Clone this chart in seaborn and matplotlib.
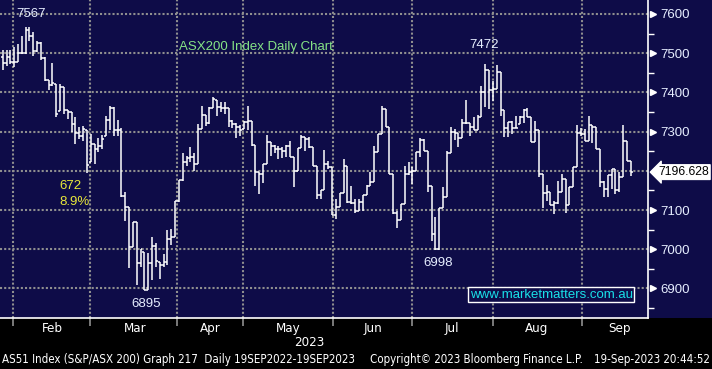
import numpy as np
import pandas as pd
import matplotlib
matplotlib.use("Agg")
import matplotlib.pyplot as plt
import seaborn as sns
from matplotlib.patches import Rectangle

# ---------------- data ----------------
opens = [7491, 7475, 7490, 7478, 7477, 7500, 7500, 7558, 7545, 7506,
         7525, 7488, 7432, 7420, 7422, 7352, 7413, 7355, 7349, 7320,
         7296, 7290, 7304, 7222, 7269, 7255, 7262, 7290, 7330, 7360,
         7305, 7305, 7135, 7108, 7006, 7069, 6965, 6993, 6896, 6965,
         7007, 6967, 6960, 6968, 7026, 7031, 7123, 7177, 7222, 7233,
         7236, 7217, 7307, 7343, 7321, 7360, 7381, 7362, 7360, 7360,
         7328, 7320, 7311, 7307, 7324, 7328, 7267, 7196, 7192, 7217,
         7273, 7264, 7256, 7256, 7251, 7264, 7234, 7199, 7258, 7286,
         7281, 7260, 7213, 7137, 7151, 7217, 7209, 7088, 7107, 7143,
         7213, 7120, 7117, 7098, 7120, 7137, 7162, 7171, 7247, 7294,
         7358, 7313, 7192, 7092, 7075, 7115, 7192, 7196, 7200, 7247,
         7279, 7250, 7162, 7039, 7000, 7105, 7134, 7245, 7298, 7296,
         7284, 7321, 7321, 7313, 7304, 7338, 7400, 7456, 7405, 7409,
         7451, 7354, 7309, 7324, 7309, 7320, 7337, 7355, 7337, 7273,
         7303, 7192, 7143, 7145, 7114, 7118, 7145, 7179, 7114, 7158,
         7209, 7296, 7294, 7277, 7316, 7313, 7256, 7171, 7154, 7190,
         7205, 7151, 7185, 7277, 7226]
highs = [7507, 7509, 7507, 7515, 7524, 7545, 7566, 7568, 7554, 7531,
         7528, 7490, 7432, 7474, 7422, 7422, 7413, 7355, 7349, 7337,
         7313, 7315, 7304, 7294, 7269, 7284, 7292, 7341, 7366, 7364,
         7330, 7309, 7145, 7108, 7069, 7069, 7000, 6993, 6990, 7031,
         7016, 6967, 6988, 7049, 7052, 7123, 7177, 7245, 7239, 7260,
         7245, 7320, 7366, 7343, 7362, 7389, 7381, 7375, 7375, 7360,
         7330, 7321, 7318, 7328, 7366, 7328, 7267, 7196, 7217, 7292,
         7273, 7267, 7262, 7260, 7267, 7277, 7234, 7258, 7292, 7286,
         7287, 7260, 7213, 7151, 7253, 7226, 7209, 7128, 7143, 7230,
         7213, 7162, 7128, 7128, 7137, 7165, 7196, 7262, 7294, 7366,
         7358, 7313, 7192, 7097, 7115, 7213, 7222, 7209, 7247, 7284,
         7281, 7250, 7162, 7083, 7105, 7158, 7251, 7311, 7307, 7296,
         7332, 7381, 7321, 7337, 7343, 7417, 7472, 7456, 7430, 7471,
         7451, 7354, 7324, 7328, 7341, 7341, 7358, 7360, 7337, 7328,
         7304, 7192, 7165, 7145, 7124, 7173, 7192, 7179, 7158, 7209,
         7318, 7309, 7307, 7341, 7316, 7313, 7256, 7175, 7190, 7205,
         7205, 7196, 7318, 7277, 7226]
lows = [7456, 7468, 7473, 7464, 7477, 7498, 7498, 7532, 7494, 7503,
        7483, 7430, 7406, 7417, 7337, 7352, 7345, 7332, 7298, 7269,
        7281, 7277, 7194, 7222, 7217, 7247, 7256, 7290, 7303, 7290,
        7290, 7132, 7072, 6952, 7006, 6909, 6955, 6896, 6896, 6921,
        6955, 6924, 6955, 6960, 7011, 7031, 7120, 7175, 7213, 7222,
        7200, 7217, 7307, 7315, 7320, 7360, 7341, 7349, 7345, 7313,
        7309, 7284, 7290, 7307, 7303, 7264, 7162, 7141, 7168, 7217,
        7239, 7245, 7230, 7233, 7234, 7234, 7158, 7199, 7258, 7250,
        7258, 7213, 7128, 7128, 7151, 7205, 7088, 7077, 7107, 7143,
        7117, 7115, 7092, 7098, 7098, 7137, 7162, 7171, 7247, 7294,
        7311, 7192, 7090, 7054, 7075, 7115, 7190, 7166, 7200, 7234,
        7250, 7145, 7022, 6998, 6998, 7105, 7134, 7245, 7279, 7260,
        7284, 7320, 7290, 7304, 7304, 7338, 7364, 7358, 7379, 7409,
        7341, 7287, 7286, 7294, 7309, 7320, 7321, 7337, 7273, 7273,
        7183, 7105, 7124, 7114, 7090, 7115, 7145, 7092, 7114, 7158,
        7209, 7290, 7275, 7277, 7270, 7256, 7158, 7132, 7132, 7154,
        7141, 7145, 7185, 7224, 7188]
closes = [7475, 7490, 7478, 7477, 7500, 7500, 7558, 7545, 7506, 7525,
          7488, 7432, 7420, 7424, 7345, 7414, 7355, 7349, 7320, 7296,
          7290, 7306, 7215, 7269, 7255, 7262, 7280, 7330, 7360, 7305,
          7305, 7135, 7108, 7006, 7069, 6965, 7000, 6896, 6965, 7007,
          6970, 6960, 6968, 7026, 7030, 7123, 7177, 7222, 7233, 7236,
          7217, 7307, 7343, 7321, 7360, 7383, 7362, 7360, 7360, 7328,
          7320, 7311, 7304, 7324, 7328, 7267, 7196, 7192, 7217, 7273,
          7264, 7256, 7256, 7251, 7264, 7234, 7199, 7258, 7286, 7281,
          7260, 7213, 7137, 7151, 7217, 7209, 7088, 7107, 7143, 7213,
          7120, 7117, 7098, 7120, 7137, 7162, 7171, 7247, 7294, 7358,
          7313, 7192, 7092, 7075, 7115, 7192, 7196, 7200, 7247, 7279,
          7250, 7162, 7039, 7000, 7105, 7134, 7245, 7298, 7296, 7284,
          7321, 7321, 7313, 7304, 7338, 7400, 7456, 7405, 7409, 7451,
          7354, 7309, 7324, 7309, 7309, 7337, 7355, 7337, 7273, 7303,
          7192, 7143, 7145, 7114, 7118, 7145, 7179, 7114, 7158, 7209,
          7296, 7294, 7277, 7318, 7313, 7256, 7171, 7154, 7190, 7205,
          7151, 7185, 7277, 7226, 7196.628]

month_labels = ["Feb", "Mar", "Apr", "May", "Jun", "Jul", "Aug", "Sep"]
month_edges = [2.6, 22.7, 45.5, 62.7, 86.2, 106.9, 128.0, 151.2]   # bar index of month boundaries
month_label_pos = [12.9, 34.5, 54.1, 74.5, 96.7, 117.3, 139.5, 161.0]
price_ticks = [6900, 7000, 7100, 7200, 7300, 7400, 7500, 7600]
price_tick_labels = ["6900", "7000", "7100", "", "7300", "7400", "7500", "7600"]
price_minor = [6850, 6950, 7050, 7150, 7250, 7350, 7450, 7550]
year_label = "2023"
last_price_label = "7196.628"

NAVY = "#0e0c48"
GRID = "#8f8f8f"
W, H = 712, 369
AX_RIGHT = 648
AX_BOTTOM = 318

sns.set_theme(style="dark")
plt.rcParams['font.family'] = ['Liberation Sans', 'DejaVu Sans']

df = pd.DataFrame({"bar": np.arange(len(closes)), "open": opens, "high": highs,
                   "low": lows, "close": closes})

fig = plt.figure(figsize=(W / 100, H / 100), dpi=100, facecolor="black")
fig.patches.append(Rectangle((0, 1 - AX_BOTTOM / H), 1, AX_BOTTOM / H,
                             transform=fig.transFigure, facecolor=NAVY,
                             edgecolor="none", zorder=-10))
ax = fig.add_axes([0, 1 - AX_BOTTOM / H, AX_RIGHT / W, AX_BOTTOM / H])
ax.set_facecolor(NAVY)

ax.set_xlim(-0.7, 168.5)
ax.set_ylim(6824.5, 7635.7)

# grid
for p in price_ticks:
    ax.axhline(p, color=GRID, lw=1.5, ls=(0, (1, 1)), zorder=1)
for e in month_edges:
    ax.axvline(e, color=GRID, lw=1.5, ls=(0, (1, 1)), zorder=1)

# OHLC bars
ax.vlines(df["bar"], df["low"], df["high"], color="white", lw=1.1, zorder=3)
ax.hlines(df["open"], df["bar"] - 0.5, df["bar"], color="white", lw=1.1, zorder=3)
ax.hlines(df["close"], df["bar"], df["bar"] + 0.5, color="white", lw=1.1, zorder=3)

# spines
for s in ["top", "left"]:
    ax.spines[s].set_visible(False)
for s in ["bottom", "right"]:
    ax.spines[s].set_visible(True)
    ax.spines[s].set_color("white")
    ax.spines[s].set_linewidth(1.2)

# y axis on right
ax.yaxis.tick_right()
ax.set_yticks(price_ticks)
ax.set_yticklabels(price_tick_labels)
ax.set_yticks(price_minor, minor=True)
ax.tick_params(axis="y", which="major", length=0, pad=9, labelsize=9.5,
               labelcolor="#e6eeff", right=True, left=False)
ax.tick_params(axis="y", which="minor", length=4, width=1, color="white",
               direction="out", right=True, left=False)
ytr = ax.get_yaxis_transform()
tri_ticks = [p for p, lab in zip(price_ticks, price_tick_labels) if lab]
ax.plot([1.0 + 5 / AX_RIGHT] * len(tri_ticks), tri_ticks, ls="none",
        marker=">", ms=4.5, color="white", transform=ytr, clip_on=False, zorder=5)

# x axis
ax.set_xticks(month_edges)
ax.set_xticklabels([""] * len(month_edges))
ax.set_xticks(month_label_pos, minor=True)
ax.set_xticklabels(month_labels, minor=True)
ax.tick_params(axis="x", which="major", length=6, width=1.2, color=GRID,
               direction="out", bottom=True)
ax.tick_params(axis="x", which="minor", length=0, pad=3, labelsize=9.5,
               labelcolor="white", bottom=True)
for t in ax.get_xticklabels(minor=True):
    t.set_fontfamily(["DejaVu Sans"])
    t.set_fontstretch("condensed")
ax.grid(False)

# annotations
ax.text(7.4, 7600, "7567", color="#e6eeff", fontsize=9.5, ha="center", va="center")
ax.text(66.0, 7516, "ASX200 Index Daily Chart", color="#86e486", fontsize=9.5,
        ha="center", va="center")
ax.text(14.7, 7161, "672", color="#e8e83a", fontsize=9.5, ha="left", va="center")
ax.text(14.7, 7120, "8.9%", color="#e8e83a", fontsize=9.5, ha="left", va="center")
ax.text(37.4, 6861, "6895", color="#e6eeff", fontsize=9.5, ha="center", va="center")
ax.text(113.7, 6966, "6998", color="#e6eeff", fontsize=9.5, ha="center", va="center")
ax.text(125.7, 7522, "7472", color="#e6eeff", fontsize=9.5, ha="center", va="center")
ax.text(143.2, 6884, "www.marketmatters.com.au", color="#19e0e8", fontsize=9.5,
        ha="center", va="center",
        bbox=dict(boxstyle="square,pad=0.12", fc=NAVY, ec="white", lw=1.0))

# last price marker
ax.text(1.0 + 10 / AX_RIGHT, closes[-1], last_price_label, transform=ytr, color="black",
        fontsize=8.8, ha="left", va="center", clip_on=False, zorder=6,
        bbox=dict(boxstyle="larrow,pad=0.12", fc="white", ec="white", lw=0.8))

# bottom texts
fig.text(309 / W, 1 - 343 / H, year_label, color="white", fontsize=9.5,
         ha="center", va="center", family=["DejaVu Sans"], fontstretch="condensed")
foot_kw = dict(color="white", fontsize=8.3, va="center", family=["DejaVu Sans"],
               fontstretch="condensed")
fig.text(2 / W, 1 - 360 / H, "AS51 Index (S&P/ASX 200) Graph 217  Daily 19SEP2022-19SEP2023",
         ha="left", **foot_kw)
fig.text(370 / W, 1 - 360 / H, "Copyright\u00a9 2023 Bloomberg Finance L.P.",
         ha="left", **foot_kw)
fig.text(710 / W, 1 - 360 / H, "19-Sep-2023 20:44:52", ha="right", **foot_kw)

fig.savefig("out.png", dpi=100, facecolor="black")
